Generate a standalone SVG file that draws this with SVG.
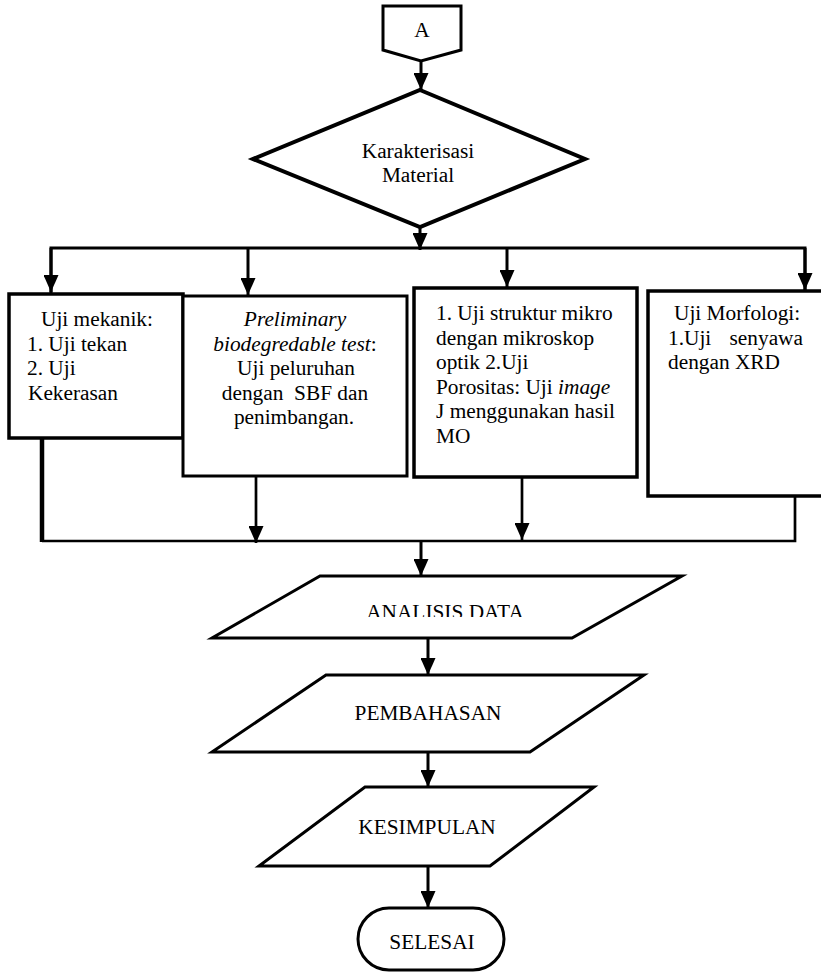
<svg xmlns="http://www.w3.org/2000/svg" width="821" height="973" viewBox="0 0 821 973">
<style>
text{font-family:"Liberation Serif","Times New Roman",serif;font-size:21.33px;fill:#000}
.c{text-anchor:middle}
.i{font-style:italic}
.shape{fill:#fff;stroke:#000;stroke-width:3}
.thick{fill:#fff;stroke:#000;stroke-width:3.5}
.conn{fill:none;stroke:#000;stroke-width:3}
.arr{marker-end:url(#ah)}
</style>
<defs>
<marker id="ah" viewBox="0 0 17 15" refX="17" refY="7.5" markerWidth="17" markerHeight="15" markerUnits="userSpaceOnUse" orient="auto"><path d="M0,0 L17,7.5 L0,15 z" fill="#000"/></marker>
<clipPath id="clipA"><rect x="0" y="560" width="821" height="57"/></clipPath>
</defs>
<rect width="821" height="973" fill="#fff"/>

<g id="start-A">
<polygon class="shape" points="383,6 461,6 461,50 421,61 383,50"/>
<text class="c" x="422" y="37">A</text>
</g>

<g id="karakterisasi">
<polygon class="shape" style="stroke-width:4" points="420,90 585,159 420,227 253,159"/>
<text class="c" x="418" y="158">Karakterisasi</text>
<text class="c" x="418" y="182">Material</text>
</g>

<g id="uji-mekanik">
<rect class="thick" x="9" y="294" width="174" height="144"/>
<text x="41" y="326">Uji mekanik:</text>
<text x="27" y="350.5">1. Uji tekan</text>
<text x="27" y="375">2. Uji</text>
<text x="28" y="399.5">Kekerasan</text>
</g>

<g id="preliminary">
<rect class="shape" x="183" y="296" width="224" height="180"/>
<text class="c i" x="295" y="326">Preliminary</text>
<text class="c" x="295" y="350.5"><tspan class="i">biodegredable test</tspan>:</text>
<text class="c" x="296" y="375">Uji peluruhan</text>
<text class="c" x="295" y="399.5">dengan&#160; SBF dan</text>
<text class="c" x="294" y="424">penimbangan.</text>
</g>

<g id="struktur-mikro">
<rect class="thick" x="414" y="288" width="223" height="189"/>
<text x="436" y="320">1. Uji struktur mikro</text>
<text x="436" y="344.5">dengan mikroskop</text>
<text x="436" y="369">optik 2.Uji</text>
<text x="436" y="393.5">Porositas: Uji <tspan class="i">image</tspan></text>
<text x="436" y="418">J menggunakan hasil</text>
<text x="436" y="442.5">MO</text>
</g>

<g id="morfologi">
<rect class="thick" x="648" y="291" width="176" height="205"/>
<text x="674" y="320">Uji Morfologi:</text>
<text y="344.5"><tspan x="668">1.Uji</tspan><tspan x="803" text-anchor="end">senyawa</tspan></text>
<text x="668" y="369">dengan XRD</text>
</g>

<g id="analisis-data">
<polygon class="shape" points="320,576 682,576 572,638 212,638"/>
<text class="c" x="445" y="619" clip-path="url(#clipA)">ANALISIS DATA</text>
</g>

<g id="pembahasan">
<polygon class="shape" points="326,675 644,675 530,752 212,752"/>
<text class="c" x="428" y="720">PEMBAHASAN</text>
</g>

<g id="kesimpulan">
<polygon class="shape" points="365,787 594,787 490,866 259,866"/>
<text class="c" x="427" y="834">KESIMPULAN</text>
</g>

<g id="selesai">
<rect class="shape" x="358" y="908" width="146" height="62" rx="31" ry="31"/>
<text class="c" x="432" y="949">SELESAI</text>
</g>

<g id="connectors">
<line class="conn arr" x1="421" y1="61" x2="421" y2="90"/>
<line class="conn arr" x1="420" y1="227" x2="420" y2="250"/>
<polyline class="conn" points="51,294 51,248 805,248 805,291"/>
<line class="conn arr" x1="51" y1="248" x2="51" y2="292"/>
<line class="conn arr" x1="248" y1="248" x2="248" y2="295"/>
<line class="conn arr" x1="507" y1="248" x2="507" y2="287"/>
<line class="conn arr" x1="805" y1="248" x2="805" y2="290"/>
<line class="conn" style="stroke-width:4.5" x1="42" y1="438" x2="42" y2="542"/>
<polyline class="conn" style="stroke-width:2.7" points="42,541 795,541 795,496"/>
<line class="conn arr" style="stroke-width:2.7" x1="256" y1="476" x2="256" y2="543"/>
<line class="conn arr" style="stroke-width:2.7" x1="522" y1="477" x2="522" y2="540"/>
<line class="conn arr" x1="421" y1="541" x2="421" y2="576"/>
<line class="conn arr" x1="428" y1="638" x2="428" y2="675"/>
<line class="conn arr" x1="428" y1="752" x2="428" y2="787"/>
<line class="conn arr" x1="428" y1="866" x2="428" y2="908"/>
</g>
</svg>
